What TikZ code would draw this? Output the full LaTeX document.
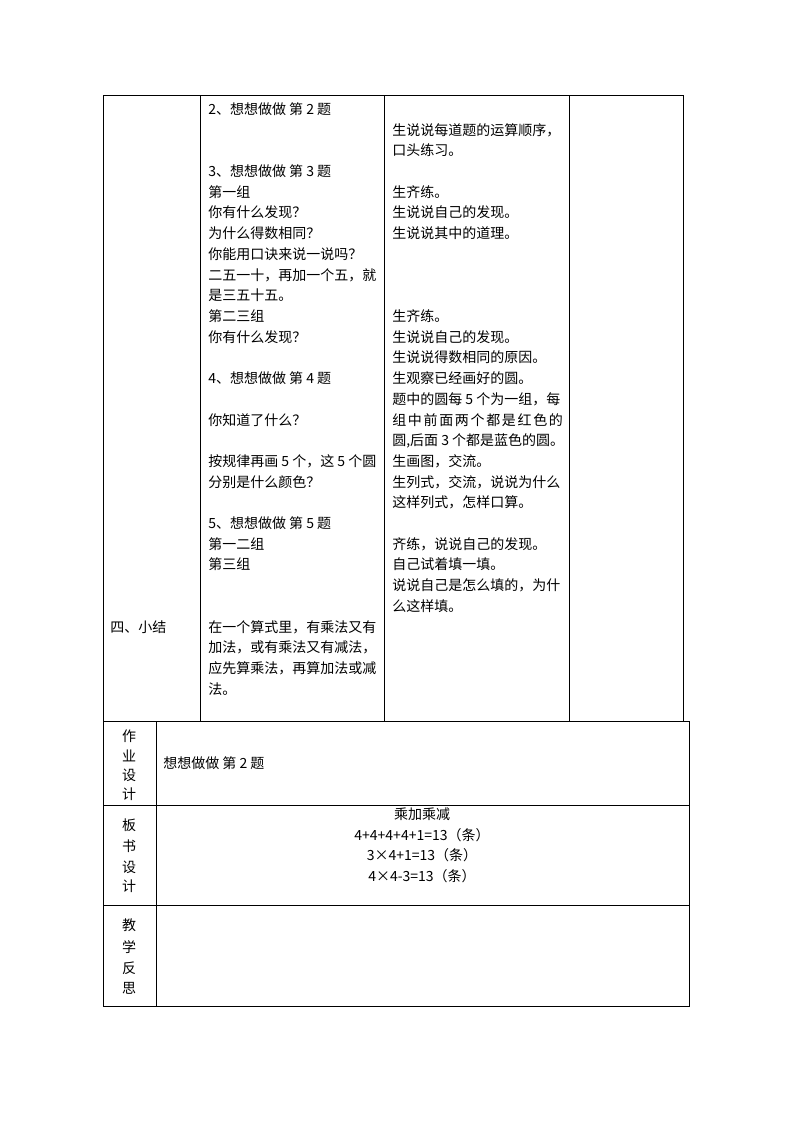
\documentclass[tikz,border=0pt]{standalone}
\usepackage{fontspec}
\setmainfont{Noto Sans CJK SC}
\usepackage{tikz}
\usetikzlibrary{positioning}

\tikzset{
  txt/.style={anchor=base west, inner sep=+0pt},
  ctxt/.style={anchor=base, inner sep=+0pt},
  rule/.style={line width=0.75pt}
}

\begin{document}
\begin{tikzpicture}[
    x=0.75pt, y=-0.75pt,
    font=\fontsize{10.5pt}{15.5pt}\selectfont
    ]
\useasboundingbox (0,0) rectangle (794,1123);

% upper table
\draw[rule] (103,96) rectangle (683,721);
\draw[rule] (200,96) -- (200,721);
\draw[rule] (384,96) -- (384,721);
\draw[rule] (569,96) -- (569,721);

% lower table
\draw[rule] (103,721) rectangle (689,1006);
\draw[rule] (103,805) -- (689,805);
\draw[rule] (103,905) -- (689,905);
\draw[rule] (156,721) -- (156,1006);

% first column
\node[txt] (sum) at (110,632) {四、小结};

% second column
\node[txt] (a0)  at (208,114.5) {2、想想做做 第 2 题};
\node[txt] (a3)  at (208,176.6) {3、想想做做 第 3 题};
\node[txt] (a4)  at (208,197.3) {第一组};
\node[txt] (a5)  at (208,218.0) {你有什么发现？};
\node[txt] (a6)  at (208,238.7) {为什么得数相同？};
\node[txt] (a7)  at (208,259.4) {你能用口诀来说一说吗？};
\node[txt] (a8)  at (208,280.1) {二五一十，再加一个五，就};
\node[txt] (a9)  at (208,300.8) {是三五十五。};
\node[txt] (a10) at (208,321.5) {第二三组};
\node[txt] (a11) at (208,342.2) {你有什么发现？};
\node[txt] (a13) at (208,383.6) {4、想想做做 第 4 题};
\node[txt] (a15) at (208,425.0) {你知道了什么？};
\node[txt] (a17) at (208,466.4) {按规律再画 5 个，这 5 个圆};
\node[txt] (a18) at (208,487.1) {分别是什么颜色？};
\node[txt] (a20) at (208,528.5) {5、想想做做 第 5 题};
\node[txt] (a21) at (208,549.2) {第一二组};
\node[txt] (a22) at (208,569.9) {第三组};
\node[txt] (a25) at (208,632.0) {在一个算式里，有乘法又有};
\node[txt] (a26) at (208,652.7) {加法，或有乘法又有减法，};
\node[txt] (a27) at (208,673.4) {应先算乘法，再算加法或减};
\node[txt] (a28) at (208,694.1) {法。};

% third column
\node[txt] (b1)  at (392,135.2) {生说说每道题的运算顺序，};
\node[txt] (b2)  at (392,155.9) {口头练习。};
\node[txt] (b4)  at (392,197.3) {生齐练。};
\node[txt] (b5)  at (392,218.0) {生说说自己的发现。};
\node[txt] (b6)  at (392,238.7) {生说说其中的道理。};
\node[txt] (b10) at (392,321.5) {生齐练。};
\node[txt] (b11) at (392,342.2) {生说说自己的发现。};
\node[txt] (b12) at (392,362.9) {生说说得数相同的原因。};
\node[txt] (b13) at (392,383.6) {生观察已经画好的圆。};
\node[txt] (b14) at (392,404.3) {题中的圆每 5 个为一组，每};
\node[txt] (b15) at (392,425.0) {\makebox[128pt][s]{组\hfil 中\hfil 前\hfil 面\hfil 两\hfil 个\hfil 都\hfil 是\hfil 红\hfil 色\hfil 的}};
\node[txt] (b16) at (392,445.7) {圆,后面 3 个都是蓝色的圆。};
\node[txt] (b17) at (392,466.4) {生画图，交流。};
\node[txt] (b18) at (392,487.1) {生列式，交流，说说为什么};
\node[txt] (b19) at (392,507.8) {这样列式，怎样口算。};
\node[txt] (b21) at (392,549.2) {齐练，说说自己的发现。};
\node[txt] (b22) at (392,569.9) {自己试着填一填。};
\node[txt] (b23) at (392,590.6) {说说自己是怎么填的，为什};
\node[txt] (b24) at (392,611.3) {么这样填。};

% lower table, left labels
\node[ctxt] (hw1) at (129,741) {作};
\node[ctxt] (hw2) at (129,761) {业};
\node[ctxt] (hw3) at (129,780) {设};
\node[ctxt] (hw4) at (129,799) {计};
\node[ctxt] (bd1) at (129,830) {板};
\node[ctxt] (bd2) at (129,851) {书};
\node[ctxt] (bd3) at (129,872) {设};
\node[ctxt] (bd4) at (129,891) {计};
\node[ctxt] (rf1) at (129,930) {教};
\node[ctxt] (rf2) at (129,952) {学};
\node[ctxt] (rf3) at (129,973) {反};
\node[ctxt] (rf4) at (129,993) {思};

% lower table, contents
\node[txt] (hw) at (163,768) {想想做做 第 2 题};
\node[ctxt] (bt) at (422,819) {乘加乘减};
\node[ctxt] (e1) at (422,840) {4+4+4+4+1=13（条）};
\node[ctxt] (e2) at (422,860) {3×4+1=13（条）};
\node[ctxt] (e3) at (422,881) {4×4-3=13（条）};

\end{tikzpicture}
\end{document}
